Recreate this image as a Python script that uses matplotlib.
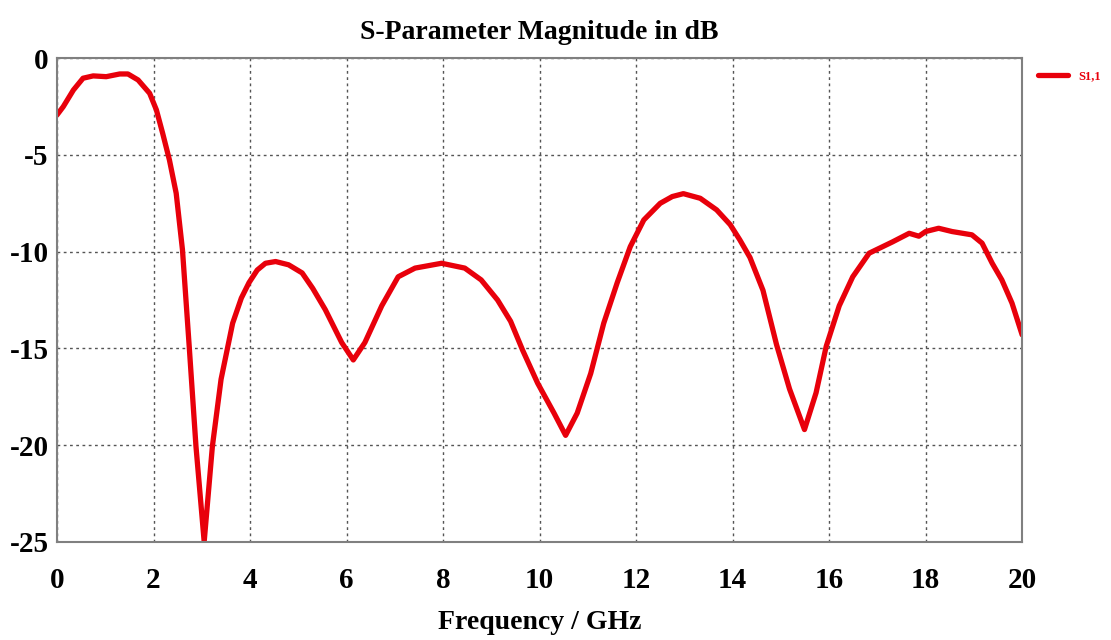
'''
S-parameter magnitude (S1,1) in dB versus frequency.
'''

import matplotlib.pyplot as plt

# Frequency points (GHz) and S1,1 magnitude (dB)
freq = [0.0, 0.13, 0.34, 0.54, 0.75, 1.02, 1.30, 1.47, 1.68, 1.92, 2.06, 2.19,
        2.33, 2.47, 2.60, 2.74, 2.88, 3.05, 3.22, 3.40, 3.64, 3.82, 3.98, 4.15,
        4.32, 4.53, 4.80, 5.08, 5.30, 5.56, 5.90, 6.14, 6.38, 6.73, 7.07, 7.42,
        7.97, 8.45, 8.79, 9.13, 9.40, 9.65, 9.96, 10.30, 10.54, 10.78, 11.06,
        11.33, 11.61, 11.88, 12.16, 12.50, 12.75, 12.98, 13.33, 13.67, 13.95,
        14.15, 14.36, 14.63, 14.91, 15.18, 15.49, 15.73, 15.94, 16.21, 16.49,
        16.83, 17.31, 17.66, 17.86, 18.0, 18.27, 18.55, 18.96, 19.17, 19.38,
        19.58, 19.79, 20.0]
s11 = [-2.93, -2.5, -1.64, -1.03, -0.91, -0.95, -0.81, -0.81, -1.12, -1.81, -2.67,
       -3.88, -5.26, -6.98, -9.9, -14.9, -20.07, -25.0, -20.07, -16.6, -13.7,
       -12.4, -11.6, -10.95, -10.6, -10.51, -10.68, -11.1, -11.9, -13.0, -14.7,
       -15.6, -14.7, -12.8, -11.3, -10.85, -10.6, -10.85, -11.46, -12.5, -13.6,
       -15.1, -16.8, -18.35, -19.5, -18.35, -16.3, -13.7, -11.6, -9.74, -8.36,
       -7.5, -7.15, -7.0, -7.24, -7.84, -8.6, -9.39, -10.3, -12.0, -14.8, -17.1,
       -19.2, -17.3, -14.9, -12.8, -11.3, -10.08, -9.5, -9.05, -9.2, -8.96,
       -8.79, -8.96, -9.13, -9.56, -10.6, -11.46, -12.66, -14.3]

x_ticks = [0, 2, 4, 6, 8, 10, 12, 14, 16, 18, 20]
y_ticks = [0, -5, -10, -15, -20, -25]

plt.rcParams['font.family'] = ['Liberation Serif', 'DejaVu Serif']
plt.rcParams['font.weight'] = 'bold'
plt.rcParams['axes.unicode_minus'] = False

fig = plt.figure(figsize=(11.11, 6.4), dpi=100)
ax = fig.add_axes([0.0513, 0.1536, 0.8687, 0.7553])

ax.plot(freq, s11, color='#e8000b', linewidth=3.8, label='S1,1',
        solid_capstyle='round', solid_joinstyle='round')

ax.set_xlim(0, 20)
ax.set_ylim(-25, 0)
ax.set_xticks(x_ticks)
ax.set_yticks(y_ticks)
ax.tick_params(length=0, labelsize=21)
ax.tick_params(axis='y', pad=6)
ax.tick_params(axis='x', pad=18)
for spine in ax.spines.values():
    spine.set_color('#808080')
    spine.set_linewidth(1.5)

ax.grid(True, color='#555555', linestyle=(0, (2, 2.5)), linewidth=1.0)

ax.set_title('S-Parameter Magnitude in dB', fontsize=20, fontweight='bold', pad=14)
ax.set_xlabel('Frequency / GHz', fontsize=20, fontweight='bold', labelpad=12)

leg = ax.legend(loc='upper left', bbox_to_anchor=(1.005, 0.998), frameon=False,
                fontsize=9, handlelength=2.4, labelcolor='#e8000b')

fig.savefig('out.png', dpi=100)
